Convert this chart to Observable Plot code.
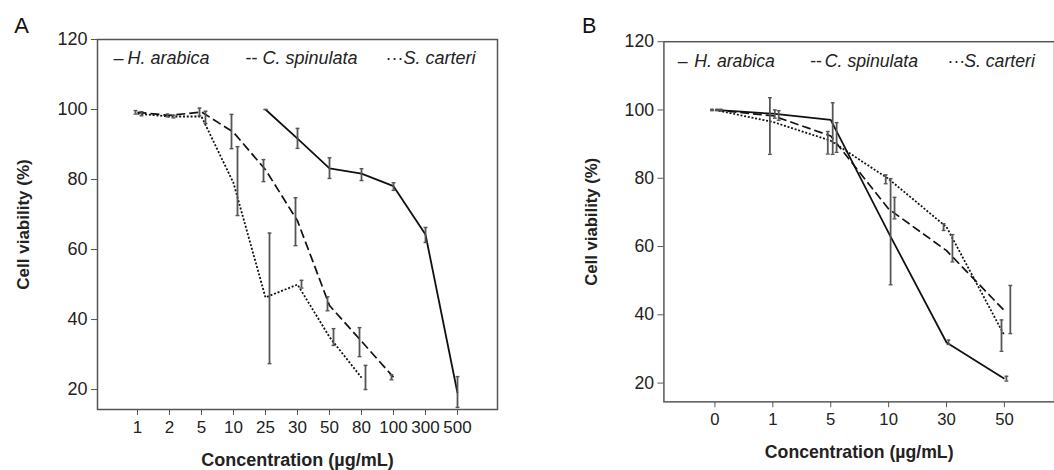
<!DOCTYPE html>
<html>
<head>
<meta charset="utf-8">
<script src="https://cdn.jsdelivr.net/npm/d3@7"></script>
<script src="https://cdn.jsdelivr.net/npm/@observablehq/plot@0.6"></script>
<style>
  html, body { margin: 0; padding: 0; background: #fff; }
  #wrap { position: relative; width: 1054px; height: 470px; overflow: hidden; background: #fff; }
  #panelA { position: absolute; left: 0; top: 0; }
  #panelB { position: absolute; left: 527px; top: 0; }
</style>
</head>
<body>
<div id="wrap"><div id="panelA"></div><div id="panelB"></div></div>
<script>
// ---------- Panel A data ----------
const concA = ["1", "2", "5", "10", "25", "30", "50", "80", "100", "300", "500"];
const yTicks = [20, 40, 60, 80, 100, 120];

const aHarConc = ["25", "30", "50", "80", "100", "300", "500"];
const aHarVal  = [100, 91.7, 83.2, 81.7, 78.1, 64.3, 19];
const aHarLow  = [100, 88.9, 80.3, 79.7, 76.9, 62.0, 14.9];
const aHarHigh = [100, 94.6, 86.2, 83.1, 79.1, 66.3, 23.7];

const aCspConc = ["1", "2", "5", "10", "25", "30", "50", "80", "100"];
const aCspVal  = [99.2, 98.3, 99.3, 93.5, 82.8, 68.2, 44.0, 33.8, 23.5];
const aCspLow  = [98.7, 97.9, 98.2, 88.8, 79.4, 61.1, 42.5, 29.4, 22.8];
const aCspHigh = [99.7, 98.7, 100.4, 98.6, 85.7, 74.8, 46.5, 37.7, 24.2];

const aScaConc = ["1", "2", "5", "10", "25", "30", "50", "80"];
const aScaVal  = [98.8, 98.0, 98.0, 79.0, 46.3, 50.0, 35.0, 23.4];
const aScaLow  = [98.2, 97.6, 96.0, 69.7, 27.4, 49.0, 32.6, 20.0];
const aScaHigh = [99.4, 98.4, 99.5, 89.4, 64.7, 51.2, 37.4, 26.9];

// ---------- Panel B data ----------
const concB = ["0", "1", "5", "10", "30", "50"];

const bHarVal  = [100, 98.9, 97.1, 64.0, 31.9, 21.3];
const bHarLow  = [99.8, 97.6, 87.0, 48.8, 31.3, 20.6];
const bHarHigh = [100.2, 100.0, 102.1, 79.9, 32.6, 22.0];

const bCspVal  = [100, 98.3, 92.4, 71.0, 58.8, 41.2];
const bCspLow  = [99.8, 97.0, 87.6, 68.1, 55.5, 34.5];
const bCspHigh = [100.2, 99.8, 96.3, 74.4, 63.5, 48.6];

const bScaVal  = [100, 96.5, 91.0, 79.8, 65.7, 33.9];
const bScaLow  = [99.8, 87.0, 87.1, 78.4, 64.7, 29.3];
const bScaHigh = [100.2, 103.6, 93.7, 81.0, 66.7, 38.5];

const names = ["H. arabica", "C. spinulata", "S. carteri"];
const symbols = ["\u2013", "--", "\u00b7\u00b7\u00b7"];

function table(conc, val, low, high) {
  return conc.map((c, i) => ({conc: c, value: val[i], low: low[i], high: high[i]}));
}

const FONT = "'Liberation Sans', Arial, Helvetica, sans-serif";
const styles = [
  {dash: null, width: 1.8, color: "#111"},
  {dash: "9,4", width: 1.7, color: "#111"},
  {dash: "2,1.8", width: 1.8, color: "#111"}
];
// small horizontal cap symbol for error bars
const capSymbol = {
  draw(ctx, size) {
    const r = Math.sqrt(size) / 2;
    ctx.moveTo(-r, 0);
    ctx.lineTo(r, 0);
  }
};

function panel(opts) {
  const {concs, series, yDomain, width, height, marginLeft, marginRight, marginTop, marginBottom,
         padding, legendDx, legendDy, letter} = opts;
  const marks = [
    Plot.frame({stroke: "#555", strokeWidth: 1.5}),
    Plot.axisY({ticks: yTicks, tickSize: 6, tickPadding: 4, fontSize: 18, stroke: "#555", label: null}),
    Plot.axisX({tickSize: 6, tickPadding: 5, fontSize: 17, stroke: "#555", label: null})
  ];
  series.forEach((s, k) => {
    const st = styles[k];
    marks.push(Plot.line(s.data, {x: "conc", y: "value", stroke: st.color, strokeWidth: st.width,
      strokeDasharray: st.dash || undefined, strokeLinecap: "butt"}));
  });
  series.forEach((s, k) => {
    marks.push(Plot.ruleX(s.data, {x: "conc", y1: "low", y2: "high", dx: s.dx, stroke: "#555", strokeWidth: 1.8}));
    marks.push(Plot.dot(s.data, {x: "conc", y: "low", dx: s.dx, symbol: capSymbol, r: 2.2, fill: "none", stroke: "#555", strokeWidth: 1.4}));
    marks.push(Plot.dot(s.data, {x: "conc", y: "high", dx: s.dx, symbol: capSymbol, r: 2.2, fill: "none", stroke: "#555", strokeWidth: 1.4}));
  });
  // legend
  names.forEach((n, k) => {
    marks.push(Plot.text([symbols[k]], {frameAnchor: "top-left", dx: legendDx[k][0], dy: legendDy,
      textAnchor: "start", lineAnchor: "middle", fontSize: 18, fill: "#222"}));
    marks.push(Plot.text([n], {frameAnchor: "top-left", dx: legendDx[k][1], dy: legendDy,
      textAnchor: "start", lineAnchor: "middle", fontSize: 18, fontStyle: "italic", fill: "#222"}));
  });
  // titles
  marks.push(Plot.text(["Cell viability (%)"], {frameAnchor: "left", dx: opts.yTitleDx, rotate: -90,
    textAnchor: "middle", lineAnchor: "middle", fontSize: 17, fontWeight: "bold", fill: "#222"}));
  marks.push(Plot.text(["Concentration (\u00b5g/mL)"], {frameAnchor: "bottom", dx: opts.xTitleDx || 0, dy: 51,
    textAnchor: "middle", lineAnchor: "middle", fontSize: 18, fontWeight: "bold", fill: "#222"}));
  marks.push(Plot.text([letter], {frameAnchor: "top-left", dx: -76, dy: opts.letterDy,
    textAnchor: "middle", lineAnchor: "middle", fontSize: 22, fill: "#111"}));

  return Plot.plot({
    width, height, marginLeft, marginRight, marginTop, marginBottom,
    x: {type: "point", domain: concs, padding},
    y: {domain: yDomain},
    style: {fontFamily: FONT, fontSize: "17px", color: "#222", background: "white", overflow: "visible"},
    marks
  });
}

const plotA = panel({
  concs: concA,
  series: [
    {data: table(aHarConc, aHarVal, aHarLow, aHarHigh), dx: 0},
    {data: table(aCspConc, aCspVal, aCspLow, aCspHigh), dx: -2},
    {data: table(aScaConc, aScaVal, aScaLow, aScaHigh), dx: 4}
  ],
  yDomain: [14.3, 120],
  width: 520, height: 470, marginLeft: 97, marginRight: 23, marginTop: 39, marginBottom: 61,
  padding: 1.1,
  legendDx: [[16, 30], [148, 165], [288, 306]], legendDy: 19,
  yTitleDx: -74, letter: "A", letterDy: -14
});
document.getElementById("panelA").appendChild(plotA);

const plotB = panel({
  concs: concB,
  series: [
    {data: table(concB, bHarVal, bHarLow, bHarHigh), dx: 2},
    {data: table(concB, bCspVal, bCspLow, bCspHigh), dx: 6},
    {data: table(concB, bScaVal, bScaLow, bScaHigh), dx: -3}
  ],
  yDomain: [14.5, 120],
  width: 537, height: 470, marginLeft: 139, marginRight: 0, marginTop: 42, marginBottom: 61,
  padding: 0.842,
  legendDx: [[14, 31], [149, 164], [289, 306]], legendDy: 20,
  yTitleDx: -74, xTitleDx: 0, letter: "B", letterDy: -16
});
document.getElementById("panelB").appendChild(plotB);
</script>
</body>
</html>
